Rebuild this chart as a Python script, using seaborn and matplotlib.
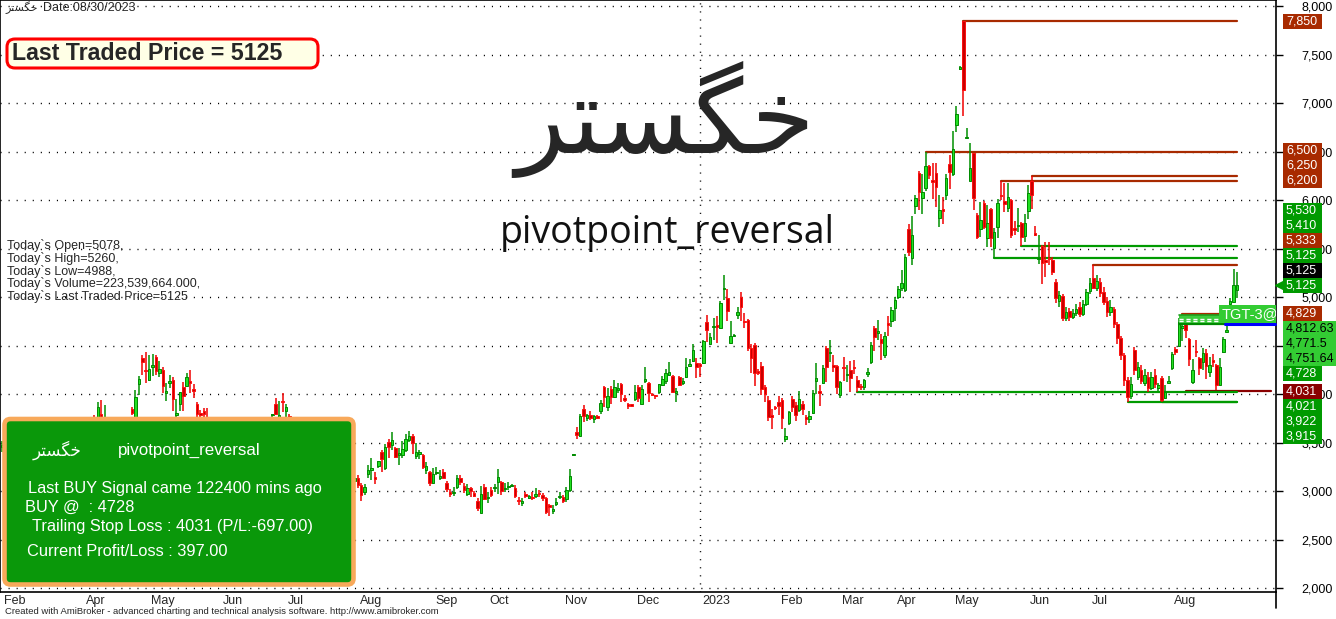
import numpy as np
import matplotlib
matplotlib.use("Agg")
import matplotlib.pyplot as plt
import matplotlib.transforms as mtransforms
from matplotlib.patches import FancyBboxPatch, Rectangle
from matplotlib.lines import Line2D
import seaborn as sns

# ---------------- data (daily candles, Feb 2022 .. Aug 2023) ----------------
opens = [
    3450, 3480, 3530, 3570, 3500, 3440, 3470, 3560, 3620, 3590,
    3520, 3460, 3510, 3580, 3640, 3610, 3550, 3600, 3670, 3640,
    3580, 3630, 3680, 3650, 3690, 3660, 3700, 3765, 3740, 3800,
    3720, 3740, 3650, 3600, 3630, 3680, 3640, 3670, 3850, 3740,
    4100, 4370, 4250, 4150, 4280, 4380, 4220, 4250, 4010, 4120,
    4150, 3790, 3900, 4070, 4080, 4140, 4050, 3900, 3810, 3830,
    3760, 3700, 3650, 3610, 3560, 3590, 3630, 3660, 3640, 3590,
    3540, 3580, 3620, 3650, 3700, 3660, 3690, 3720, 3700, 3780,
    3900, 3760, 3925, 3830, 3775, 3740, 3660, 3600, 3540, 3500,
    3530, 3570, 3510, 3440, 3400, 3430, 3380, 3310, 3340, 3290,
    3220, 3250, 3170, 3100, 3130, 3060, 2990, 3180, 3215, 3145,
    3255, 3400, 3240, 3510, 3480, 3440, 3370, 3370, 3420, 3530,
    3570, 3360, 3385, 3370, 3220, 3200, 3080, 3185, 3140, 3200,
    3080, 2995, 2980, 3040, 3140, 3050, 2970, 3030, 2980, 2900,
    2770, 3040, 2925, 3010, 3030, 3090, 3090, 3020, 3040, 3050,
    3030, 2910, 2880, 2965, 2930, 2935, 2950, 2975, 2955, 2930,
    2860, 2790, 2870, 2935, 2940, 2920, 3010, 3370, 3610, 3570,
    3850, 3750, 3790, 3740, 3775, 3830, 4070, 3870, 4050, 3970,
    4040, 4110, 3965, 3890, 3885, 3950, 4070, 3900, 4140, 4120,
    4000, 3985, 4020, 4090, 4140, 4200, 4190, 4010, 4180, 4120,
    4180, 4290, 4340, 4320, 4310, 4320, 4740, 4520, 4690, 4710,
    4680, 5080, 4990, 4530, 4600, 4820, 5000, 4745, 4770, 4480,
    4510, 4235, 4290, 4070, 3940, 3790, 3865, 3920, 3940, 3540,
    3700, 3950, 3890, 3840, 3900, 3765, 3745, 3810, 4140, 4025,
    4120, 4480, 4420, 4300, 4290, 3990, 4275, 4195, 4250, 4285,
    4150, 4085, 4070, 4210, 4330, 4680, 4630, 4570, 4400, 4730,
    4760, 4890, 5000, 5100, 5070, 5700, 5400, 5940, 6280, 6020,
    6130, 6350, 6210, 6280, 5820, 5905, 6050, 6370, 6270, 6780,
    7360, 7850, 6640, 6200, 6490, 5850, 5700, 5970, 5610, 5910,
    5510, 5720, 6060, 5990, 5920, 6000, 5710, 5735, 5770, 5630,
    5890, 6200, 5655, 5390, 5530, 5385, 5410, 5380, 5160, 4960,
    5010, 4790, 4860, 4800, 4840, 4900, 4830, 4930, 5060, 5200,
    5100, 5160, 5050, 4960, 4850, 4880, 4720, 4580, 4400, 4150,
    3980, 4460, 4180, 4250, 4120, 4180, 4060, 4200, 4060, 4170,
    3960, 4120, 4270, 4470, 4500, 4680, 4740, 4570, 4130, 4450,
    4370, 4330, 4420, 4230, 4345, 4300, 4090, 4440, 4640, 4930,
    4950, 5078,
]
highs = [
    3520, 3560, 3600, 3610, 3540, 3500, 3580, 3650, 3680, 3640,
    3560, 3530, 3590, 3660, 3700, 3650, 3620, 3690, 3720, 3680,
    3650, 3700, 3730, 3710, 3740, 3720, 3745, 3780, 3920, 3940,
    3890, 3745, 3700, 3660, 3700, 3730, 3690, 3735, 3870, 4040,
    4190, 4400, 4430, 4400, 4410, 4400, 4340, 4280, 4120, 4200,
    4180, 3950, 4020, 4130, 4220, 4250, 4100, 3920, 3840, 3860,
    3860, 3740, 3700, 3660, 3620, 3650, 3690, 3720, 3680, 3640,
    3600, 3650, 3680, 3730, 3740, 3710, 3740, 3745, 3740, 3800,
    3960, 3930, 4010, 3900, 3800, 3745, 3700, 3650, 3590, 3560,
    3600, 3620, 3550, 3490, 3460, 3480, 3420, 3370, 3390, 3330,
    3280, 3290, 3220, 3160, 3170, 3080, 3070, 3270, 3340, 3200,
    3310, 3420, 3490, 3540, 3610, 3460, 3440, 3520, 3590, 3620,
    3590, 3500, 3420, 3380, 3300, 3210, 3240, 3250, 3220, 3230,
    3100, 3020, 3040, 3170, 3170, 3080, 3070, 3040, 3000, 2930,
    3050, 3070, 2990, 3040, 3070, 3230, 3100, 3080, 3090, 3070,
    3060, 2940, 2930, 2990, 2960, 2990, 3030, 3010, 2980, 2940,
    2870, 2860, 2930, 2990, 2960, 3040, 3230, 3380, 3660, 3800,
    3890, 3800, 3830, 3790, 3790, 3940, 4080, 4060, 4080, 4150,
    4120, 4120, 3990, 3910, 3890, 4090, 4090, 4090, 4280, 4130,
    4010, 3990, 4110, 4190, 4260, 4330, 4200, 4060, 4190, 4170,
    4370, 4360, 4520, 4370, 4320, 4560, 4820, 4630, 4790, 4810,
    4960, 5230, 5080, 4750, 4620, 4900, 5050, 4840, 4780, 4520,
    4530, 4260, 4330, 4090, 3980, 3850, 3880, 3980, 3960, 3650,
    3830, 3980, 3920, 4030, 3930, 3790, 3830, 4040, 4320, 4090,
    4300, 4500, 4560, 4400, 4300, 4140, 4380, 4300, 4340, 4350,
    4190, 4110, 4160, 4270, 4540, 4700, 4770, 4620, 4640, 4810,
    4900, 5000, 5120, 5280, 5450, 5760, 5840, 6050, 6300, 6270,
    6500, 6360, 6390, 6390, 6060, 6030, 6270, 6470, 6720, 6970,
    7390, 7850, 6750, 6590, 6490, 5870, 5980, 5990, 5950, 5920,
    5710, 6010, 6200, 6180, 6180, 6010, 5790, 5920, 5780, 5860,
    6160, 6250, 5740, 5640, 5540, 5570, 5570, 5420, 5190, 5060,
    5030, 4900, 4890, 4880, 4930, 4950, 4970, 5090, 5200, 5333,
    5230, 5200, 5110, 5000, 4970, 4900, 4740, 4600, 4420, 4180,
    4180, 4490, 4330, 4300, 4260, 4230, 4230, 4260, 4120, 4190,
    4090, 4190, 4440, 4490, 4790, 4829, 4760, 4580, 4360, 4560,
    4380, 4480, 4470, 4380, 4410, 4310, 4370, 4590, 4700, 4990,
    5290, 5260,
]
lows = [
    3400, 3440, 3490, 3480, 3420, 3380, 3450, 3530, 3560, 3500,
    3440, 3420, 3480, 3550, 3590, 3530, 3510, 3580, 3610, 3560,
    3550, 3600, 3620, 3600, 3640, 3620, 3650, 3700, 3720, 3700,
    3690, 3620, 3580, 3540, 3600, 3620, 3580, 3640, 3790, 3720,
    3990, 4200, 4120, 4140, 4190, 4200, 4180, 4010, 3930, 4060,
    3830, 3750, 3830, 3830, 4070, 4010, 3960, 3760, 3755, 3750,
    3650, 3620, 3580, 3540, 3500, 3560, 3600, 3610, 3570, 3520,
    3500, 3550, 3590, 3620, 3640, 3610, 3650, 3660, 3670, 3740,
    3780, 3720, 3820, 3740, 3700, 3640, 3580, 3520, 3470, 3450,
    3500, 3490, 3420, 3380, 3350, 3360, 3290, 3250, 3270, 3200,
    3160, 3150, 3080, 3040, 3030, 2900, 2960, 3130, 3110, 3070,
    3240, 3200, 3220, 3340, 3420, 3340, 3270, 3340, 3400, 3510,
    3380, 3330, 3330, 3230, 3180, 3050, 3070, 3170, 3110, 3130,
    2990, 2940, 2950, 3020, 3060, 2980, 2950, 2940, 2940, 2790,
    2770, 2910, 2880, 2940, 2990, 2970, 2960, 2990, 3010, 3040,
    2930, 2860, 2850, 2930, 2920, 2910, 2930, 2940, 2900, 2760,
    2740, 2760, 2850, 2920, 2880, 2890, 2990, 3360, 3540, 3560,
    3710, 3720, 3730, 3700, 3740, 3800, 3870, 3830, 3900, 3960,
    4010, 3920, 3920, 3850, 3875, 3930, 3920, 3900, 4120, 3920,
    3980, 3950, 4000, 4080, 4110, 4190, 4010, 3920, 4080, 4090,
    4170, 4280, 4330, 4170, 4180, 4310, 4540, 4510, 4560, 4530,
    4670, 4970, 4750, 4520, 4590, 4780, 4760, 4680, 4450, 4220,
    4080, 4200, 3990, 3920, 3720, 3640, 3840, 3790, 3640, 3510,
    3680, 3820, 3720, 3820, 3780, 3680, 3700, 3800, 4000, 3880,
    4110, 4130, 4330, 4230, 4000, 3960, 4140, 4130, 4020, 4210,
    4021, 4040, 4040, 4180, 4310, 4450, 4560, 4350, 4370, 4600,
    4690, 4750, 4980, 5060, 5050, 5430, 5330, 5860, 5900, 5860,
    6100, 6220, 6010, 5930, 5720, 5760, 6000, 6120, 6250, 6700,
    7340, 6870, 6640, 6200, 5900, 5600, 5620, 5700, 5520, 5520,
    5410, 5610, 6000, 5880, 5880, 5610, 5640, 5670, 5530, 5570,
    5810, 5910, 5630, 5340, 5140, 5210, 5330, 5230, 4940, 4900,
    4760, 4760, 4760, 4780, 4810, 4800, 4810, 4910, 5030, 5080,
    5060, 5000, 4920, 4800, 4810, 4680, 4520, 4350, 4080, 3922,
    3950, 4200, 4150, 4100, 4080, 4020, 4040, 4060, 4030, 3915,
    3945, 4100, 4250, 4400, 4490, 4550, 4580, 4290, 4100, 4380,
    4200, 4250, 4160, 4180, 4280, 4040, 4080, 4420, 4630, 4900,
    4940, 4988,
]
closes = [
    3480, 3530, 3570, 3500, 3440, 3470, 3560, 3620, 3590, 3520,
    3460, 3510, 3580, 3640, 3610, 3550, 3600, 3670, 3640, 3580,
    3630, 3680, 3650, 3690, 3660, 3700, 3690, 3740, 3870, 3720,
    3760, 3650, 3600, 3630, 3680, 3640, 3670, 3710, 3810, 3970,
    4160, 4330, 4235, 4260, 4300, 4240, 4260, 4080, 4030, 4140,
    3950, 3810, 4020, 3980, 4180, 4120, 4030, 3800, 3790, 3800,
    3700, 3650, 3610, 3560, 3590, 3630, 3660, 3640, 3590, 3540,
    3580, 3620, 3650, 3700, 3660, 3690, 3720, 3700, 3730, 3795,
    3800, 3785, 3915, 3870, 3740, 3660, 3600, 3540, 3500, 3530,
    3570, 3510, 3440, 3400, 3430, 3380, 3310, 3340, 3290, 3220,
    3250, 3170, 3100, 3130, 3060, 2960, 3040, 3215, 3235, 3125,
    3310, 3330, 3450, 3450, 3530, 3350, 3390, 3430, 3540, 3570,
    3500, 3400, 3395, 3250, 3260, 3080, 3180, 3195, 3160, 3140,
    3020, 2975, 2995, 3130, 3090, 3010, 3030, 3000, 2950, 2830,
    2970, 2920, 2935, 2960, 3040, 3150, 3000, 3035, 3050, 3055,
    2950, 2895, 2900, 2950, 2945, 2930, 2970, 2965, 2930, 2780,
    2840, 2810, 2890, 2945, 2900, 3010, 3160, 3375, 3580, 3770,
    3770, 3780, 3750, 3770, 3750, 3910, 3970, 3980, 3970, 4070,
    4060, 4000, 3940, 3880, 3880, 4020, 3960, 4050, 4160, 4010,
    3990, 3980, 4100, 4160, 4220, 4230, 4020, 4035, 4090, 4140,
    4280, 4310, 4460, 4280, 4290, 4550, 4660, 4590, 4700, 4690,
    4940, 5095, 4860, 4600, 4610, 4850, 4900, 4740, 4480, 4370,
    4220, 4220, 4050, 4000, 3760, 3760, 3855, 3880, 3750, 3570,
    3820, 3870, 3780, 3950, 3850, 3745, 3770, 4010, 4170, 4015,
    4270, 4280, 4435, 4280, 4070, 4130, 4265, 4210, 4170, 4270,
    4070, 4075, 4150, 4230, 4510, 4590, 4650, 4530, 4600, 4710,
    4870, 4970, 5090, 5150, 5415, 5470, 5640, 6020, 6090, 6090,
    6350, 6260, 6190, 6140, 5900, 5895, 6230, 6290, 6530, 6890,
    7380, 7140, 6655, 6330, 6020, 5620, 5800, 5720, 5770, 5610,
    5670, 5970, 6040, 5960, 6030, 5640, 5695, 5750, 5620, 5770,
    6080, 6060, 5645, 5410, 5350, 5360, 5390, 5260, 4990, 5020,
    4790, 4850, 4800, 4840, 4880, 4830, 4930, 5050, 5150, 5100,
    5170, 5040, 4950, 4850, 4900, 4720, 4580, 4400, 4150, 3970,
    4100, 4250, 4280, 4140, 4200, 4060, 4180, 4100, 4090, 3940,
    4020, 4140, 4410, 4430, 4740, 4700, 4660, 4360, 4250, 4430,
    4270, 4420, 4290, 4300, 4335, 4090, 4280, 4570, 4660, 4960,
    5130, 5125,
]

month_labels = ["Feb", "Apr", "May", "Jun", "Jul", "Aug", "Sep", "Oct", "Nov", "Dec",
                "2023", "Feb", "Mar", "Apr", "May", "Jun", "Jul", "Aug"]
month_bars = [0, 24, 43, 64, 83, 104, 126, 142, 164, 185, 204, 227, 245, 261, 278, 300, 318, 342]
year_bar = 204

# pivot levels: value, first bar, last bar, kind
level_values = [7850, 6500, 6250, 6200, 5530, 5410, 5333, 4829, 4031, 4021, 3922, 3915]
level_start = [281, 270, 301, 292, 298, 290, 319, 345, 346, 250, 329, 339]
level_end = [361, 361, 361, 361, 361, 361, 361, 361, 371, 361, 361, 361]
level_kind = ["res", "res", "res", "res", "sup", "sup", "res", "res", "stop", "sup", "sup", "sup"]

buy_price = 4728
targets = [4812.63, 4771.5, 4751.64]
signal_bar = 344

# right-hand value tags
tag_values = [7850, 6500, 6250, 6200, 5530, 5410, 5333, 5125, 5125, 5125,
              4829, 4812.63, 4771.5, 4751.64, 4728, 4031, 4021, 3922, 3915]
tag_kind = ["res", "res", "res", "res", "sup", "sup", "res", "sup", "last", "sup",
            "res", "tgt", "tgt", "tgt", "sup", "stop", "sup", "sup", "sup"]
tag_anchor = 9

stock_name = "خگستر"
system_name = "pivotpoint_reversal"
today_lines = ["Today`s Open=5078,", "Today`s High=5260,", "Today`s Low=4988,",
               "Today`s Volume=223,539,664.000,", "Today`s Last Traded Price=5125"]
box_lines = ["Last BUY Signal came 122400 mins ago", "BUY @  : 4728",
             "Trailing Stop Loss : 4031 (P/L:-697.00)", "Current Profit/Loss : 397.00"]

# ---------------- style ----------------
sns.set_style("white")
plt.rcParams["font.family"] = ["Liberation Sans", "DejaVu Sans"]

W, H = 1336, 619
RES = "#A82A00"
SUP = "#009A00"
COL = {"res": RES, "sup": SUP, "stop": "#8A0000", "last": "#000000", "tgt": "#33CC33"}


def shape_fa(word):
    # contextual forms (iso, fin, ini, med) for the letters used, in visual order
    forms = {"خ": "\uFEA5\uFEA6\uFEA7\uFEA8", "گ": "\uFB92\uFB93\uFB94\uFB95",
             "س": "\uFEB1\uFEB2\uFEB3\uFEB4", "ت": "\uFE95\uFE96\uFE97\uFE98",
             "ر": "\uFEAD\uFEAE\uFEAD\uFEAE"}
    out = []
    for i, ch in enumerate(word):
        prev_j = i > 0 and word[i - 1] != "ر"
        next_j = i < len(word) - 1 and ch != "ر"
        out.append(forms[ch][(2 if next_j else 0) + (1 if prev_j else 0)])
    return "".join(reversed(out))


def fx(x):
    return x / W


def fy(y):
    return 1 - y / H


fig = plt.figure(figsize=(W / 100, H / 100), dpi=100)
AXB = 592
ax = fig.add_axes([0, 1 - AXB / H, 1276 / W, AXB / H])
ppu = (588 - 6.5) / 6000
ax.set_ylim(2000 - (AXB - 588) / ppu, 8000 + 6.5 / ppu)
n = len(closes)
step = (1237 - 2) / (n - 1)
ax.set_xlim(-2 / step, (1276 - 2) / step)

# grid
for v in range(2000, 8001, 500):
    ax.axhline(v, color="black", lw=1.0, ls=(0, (0.8, 5)), zorder=0)
ax.axvline(year_bar, color="black", lw=1.0, ls=(0, (0.8, 5)), zorder=0)

# candles
o = np.array(opens, float)
h = np.array(highs, float)
l = np.array(lows, float)
c = np.array(closes, float)
x = np.arange(n)
up = c >= o
lo_b = np.minimum(o, c)
hgt = np.maximum(np.abs(c - o), 14)
ax.vlines(x[up], l[up], h[up], color="#009000", lw=1.1, zorder=3)
ax.vlines(x[~up], l[~up], h[~up], color="#F00000", lw=1.1, zorder=3)
ax.bar(x[up], hgt[up], bottom=lo_b[up], width=0.75, color="#22E022",
       edgecolor="#008A00", linewidth=0.7, zorder=4)
ax.bar(x[~up], hgt[~up], bottom=lo_b[~up], width=0.75, color="#C80000",
       edgecolor="#FF1010", linewidth=0.7, zorder=4)

# pivot levels
for v, s, e, k in zip(level_values, level_start, level_end, level_kind):
    sns.lineplot(x=[s, e], y=[v, v], color=COL[k], lw=1.6, ax=ax, zorder=2)

# target band
ax.fill_between([signal_bar, n - 1], buy_price, targets[0], color="#3CCB3C", lw=0, zorder=5)
sns.lineplot(x=[signal_bar, n - 1], y=[buy_price, buy_price], color="#008A00", lw=1.6, ax=ax, zorder=6)
sns.lineplot(x=[signal_bar, n - 1], y=[targets[0], targets[0]], color="#1FA01F", lw=1.2, ax=ax, zorder=6)
for t in targets[1:]:
    ax.plot([signal_bar, n - 1], [t, t], color="white", lw=1.0, ls=(0, (3, 2)), zorder=6)
ax.plot([n - 4.5, 372], [buy_price, buy_price], color="#0000FF", lw=2.2, zorder=7, clip_on=False)
ax.text(356.5, 4825, "TGT-3@4812.63", color="white", fontsize=10.5, va="center", ha="left",
        zorder=8, clip_on=True,
        bbox=dict(boxstyle="square,pad=0.15", fc="#33CC33", ec="none"))

# axes / ticks
for sp in ax.spines.values():
    sp.set_color("black")
    sp.set_linewidth(1.2)
ax.yaxis.tick_right()
ax.set_yticks(range(2000, 8001, 500))
ax.set_yticklabels([f"{v:,}" for v in range(2000, 8001, 500)])
ax.tick_params(axis="y", length=5, width=1, pad=13.5, labelsize=9, colors="black")
ax.set_xticks(month_bars)
ax.tick_params(axis="x", length=6.5, width=1, labelbottom=False, colors="black")
blend = mtransforms.blended_transform_factory(ax.transData, ax.transAxes)
lab_tr = mtransforms.offset_copy(blend, fig=fig, x=2, y=-3, units="dots")
for b, lab in zip(month_bars, month_labels):
    ax.text(b, 0, lab, transform=lab_tr, ha="left", va="top", fontsize=9, clip_on=False)
ax.set_xlabel("")
ax.set_ylabel("")
fig.add_artist(Line2D([fx(1276)] * 2, [fy(AXB), fy(608)], transform=fig.transFigure,
                      color="black", lw=1.2))

# right value tags, stacked away from the last price tag
tag_h = 15 / ppu
pos = list(tag_values)
for i in range(tag_anchor - 1, -1, -1):
    pos[i] = max(tag_values[i], pos[i + 1] + tag_h)
for i in range(tag_anchor + 1, len(tag_values)):
    pos[i] = min(tag_values[i], pos[i - 1] - tag_h)
tag_tr = mtransforms.blended_transform_factory(ax.transAxes, ax.transData)
for i, (v, k, p) in enumerate(zip(tag_values, tag_kind, pos)):
    txt = f"{v:,.2f}".rstrip("0").rstrip(".") if v % 1 else f"{int(v):,}"
    wpx = 53 if len(txt) > 5 else 39
    ax.add_patch(Rectangle((1283 / 1276, p - tag_h / 2), wpx / 1276, tag_h, transform=tag_tr,
                           fc=COL[k], ec="none", clip_on=False, zorder=9))
    ax.text(1286 / 1276, p, txt, transform=tag_tr, fontsize=9, va="center", ha="left",
            color="black" if k == "tgt" else "white", clip_on=False, zorder=10)
    if i == tag_anchor:
        ax.plot([1279.5 / 1276], [p], transform=tag_tr, marker="<", ms=7, color=SUP,
                clip_on=False, zorder=10)

# header texts
fig.text(fx(5), fy(8), shape_fa(stock_name), fontsize=8, family="DejaVu Sans", va="center")
fig.text(fx(43), fy(8), "Date:08/30/2023", fontsize=9, va="center")
ltp = FancyBboxPatch((7, H - 68), 311, 29, boxstyle="round,pad=0,rounding_size=8",
                     fc="#FFFFE6", ec="#FF0000", lw=2.2, transform=mtransforms.IdentityTransform())
fig.add_artist(ltp)
fig.text(fx(12), fy(54), "Last Traded Price = 5125", fontsize=16.7, fontweight="bold", va="center")
fig.text(fx(665), fy(119), shape_fa(stock_name), fontsize=74, family="DejaVu Sans",
         ha="center", va="center")
fig.text(fx(667), fy(243), system_name, fontsize=27, family=["Open Sans", "DejaVu Sans"],
         ha="center", va="baseline", color="#111111")
for j, line in enumerate(today_lines):
    fig.text(fx(7), fy(246 + 12.6 * j), line, fontsize=9, va="center")

# signal box
box = FancyBboxPatch((4.5, H - 584.5), 349, 165.5, boxstyle="round,pad=0,rounding_size=6",
                     fc="#0A980A", ec="#F8A95A", lw=3.3, transform=mtransforms.IdentityTransform())
fig.add_artist(box)
fig.text(fx(33), fy(450), shape_fa(stock_name), fontsize=12, family="DejaVu Sans",
         color="white", va="center")
fig.text(fx(118), fy(450), system_name, fontsize=12.2, color="white", va="center")
for (xx, yy), line in zip([(28, 488), (25, 507), (32, 527), (27, 552)], box_lines):
    fig.text(fx(xx), fy(yy), line, fontsize=11.8, color="white", va="center")

fig.text(fx(5), fy(612), "Created with AmiBroker - advanced charting and technical analysis software. "
         "http://www.amibroker.com", fontsize=6.8, va="center")

fig.savefig("out.png", dpi=100)
